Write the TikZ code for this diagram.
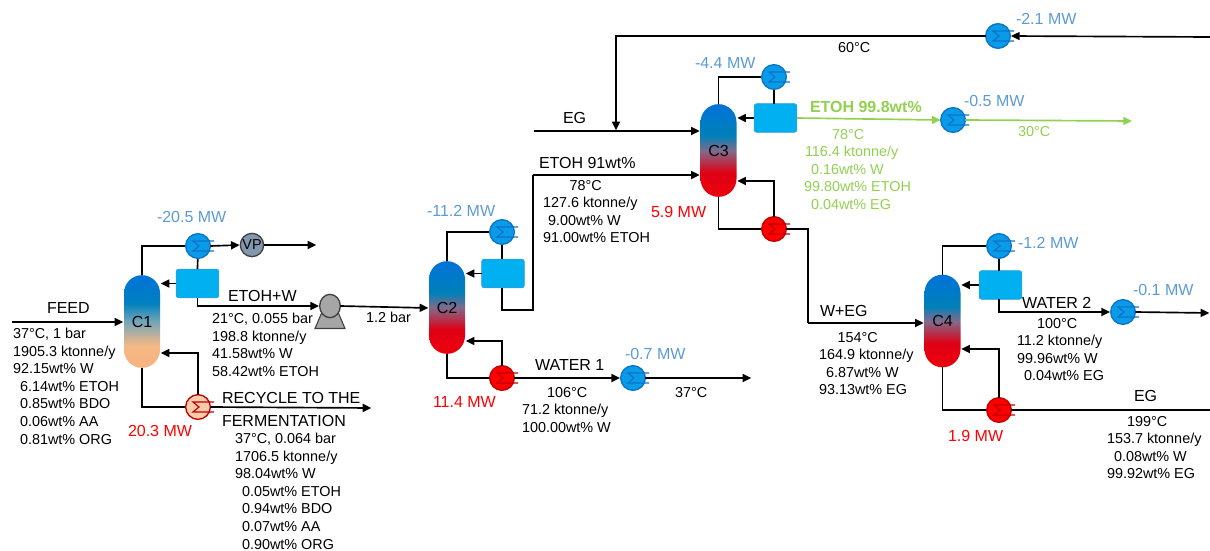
\documentclass[tikz,border=0pt]{standalone}
\usepackage{fontspec}
\setmainfont{Liberation Sans}
\usetikzlibrary{arrows.meta,calc,shapes.geometric}
\definecolor{lblue}{HTML}{5B9BD5}
\definecolor{lgreen}{HTML}{92D050}
\definecolor{cfill}{HTML}{0A9BE8}
\definecolor{cline}{HTML}{0B74C8}
\definecolor{rfill}{HTML}{00B0F0}
\definecolor{rline}{HTML}{2E9FDF}
\definecolor{hline}{HTML}{C00000}
\definecolor{pale}{HTML}{F8CBAD}
\definecolor{vpfill}{HTML}{8497B0}
\definecolor{stA}{HTML}{F5B380}
\definecolor{stB}{HTML}{F5B885}
\definecolor{stC}{HTML}{73A6B8}
\definecolor{stD}{HTML}{0080BF}
\definecolor{stE}{HTML}{0073D9}
\definecolor{stF}{HTML}{EB000D}
\definecolor{stG}{HTML}{E00014}
\definecolor{stH}{HTML}{806B8C}
\definecolor{stI}{HTML}{0080B8}
\pgfdeclareverticalshading{colpeach}{100bp}{
 color(0bp)=(stA);
 color(25bp)=(stA);
 color(37bp)=(stB);
 color(50bp)=(stC);
 color(60bp)=(stD);
 color(75bp)=(stE);
 color(100bp)=(stE)}
\pgfdeclareverticalshading{colred}{100bp}{
 color(0bp)=(stF);
 color(25bp)=(stF);
 color(38bp)=(stG);
 color(50bp)=(stH);
 color(58bp)=(stI);
 color(75bp)=(stE);
 color(100bp)=(stE)}
\tikzset{
 x=0.75pt,y=-0.75pt,
 pipe/.style={draw=black,line width=1.25pt,line join=miter},
 flow/.style={pipe,-{Triangle[length=6.5pt,width=6pt]},shorten >=0.5pt},
 gpipe/.style={draw=lgreen,line width=1.25pt},
 gflow/.style={gpipe,-{Triangle[length=6.5pt,width=6pt]}},
 column/.style={rounded corners=13.5pt,minimum width=27pt,minimum height=69.5pt,inner sep=0pt,outer sep=0pt,font=\fontsize{12}{14}\selectfont},
 recv/.style={draw=rline,fill=rfill,rounded corners=2pt,line width=.6pt,minimum width=32pt,minimum height=21.5pt,inner sep=0pt,outer sep=0pt},
 hxnode/.style={circle,line width=1pt,minimum size=18.5pt,inner sep=0pt,outer sep=0pt},
 cooler/.style={hxnode,draw=cline,fill=cfill},
 heater/.style={hxnode,draw=hline,fill=red},
 paleheater/.style={hxnode,draw=hline,fill=pale},
 sym/.style={line width=.9pt,line join=miter},
 ctxt/.style={inner sep=0pt,outer sep=0pt,anchor=north west,align=left,font=\fontsize{10.8}{13.2}\selectfont},
 ttl/.style={inner sep=0pt,outer sep=0pt,anchor=west,font=\fontsize{12}{14.2}\selectfont},
 bluetxt/.style={ttl,text=lblue},
 redtxt/.style={ttl,text=red},
}
\newcommand{\hxsym}[3]{%
 \draw[sym,draw=#3] ($(#1,#2)+(16,-5)$) -- ($(#1,#2)+(-5,-5)$) -- ($(#1,#2)+(1,0)$) -- ($(#1,#2)+(-5,5)$) -- ($(#1,#2)+(16,5)$);}
\newcommand{\ind}{\hspace*{5.25pt}}
\newcommand{\pad}[1]{\hspace*{#1pt}}
\begin{document}
\begin{tikzpicture}
\useasboundingbox (0,0) rectangle (1210,550);
% columns
\node[column,shading=colpeach] (c1) at (142,321.5) {C1};
\node[column,shading=colred] (c2) at (447,307.5) {C2};
\node[column,shading=colred] (c3) at (718.5,150.5) {C3};
\node[column,shading=colred] (c4) at (942.5,321) {C4};
% receivers
\node[recv] (r1) at (197.5,283.5) {};
\node[recv] (r2) at (503,273.5) {};
\node[recv] (r3) at (775.5,118) {};
\node[recv] (r4) at (1000.5,285) {};
% coordinates
\coordinate (feedin) at (12,322);
\coordinate (vpout) at (317,245);
\coordinate (rec1out) at (372,408);
\coordinate (c2bend) at (533,310);
\coordinate (c3feedA) at (533,175);
\coordinate (egin) at (534,131);
\coordinate (topin) at (1210,37);
\coordinate (topbend) at (616,36);
\coordinate (egjoin) at (616,131);
\coordinate (w1out) at (752,378);
\coordinate (gout) at (1132,121);
\coordinate (c3bend) at (808,229);
\coordinate (c4feed) at (808,323);
\coordinate (w2out) at (1210,313);
\coordinate (egout) at (1210,410);
% connectors under exchangers
\draw[pipe] (c1.north) |- (198,246);
\draw[pipe] (c2.north) |- (502,232);
\draw[pipe] (c3.north) |- (774,77);
\draw[pipe] (c4.north) |- (999,246);
\draw[pipe] (c1.south) |- (198,407);
\draw[pipe] (c2.south) |- (502,378);
\draw[pipe] (c3.south) |- (774,229);
\draw[pipe] (c4.south) |- (999,410);
\draw[pipe] (198,246) -- (r1.north);
\draw[pipe] (502,232) -- (502,259);
\draw[pipe] (774,77) -- (774,104);
\draw[pipe] (999,246) -- (999,271);
% exchangers
\node[cooler] (e1) at (198,246) {}; \hxsym{198}{246}{cline}
\node[paleheater] (h1) at (198,407) {}; \hxsym{198}{407}{hline}
\node[cooler] (e2) at (502,232) {}; \hxsym{502}{232}{cline}
\node[heater] (h2) at (502,378) {}; \hxsym{502}{378}{hline}
\node[cooler] (k2) at (633,378) {}; \hxsym{633}{378}{cline}
\node[cooler] (e3) at (774,77) {}; \hxsym{774}{77}{cline}
\node[heater] (h3) at (774,229) {}; \hxsym{774}{229}{hline}
\node[cooler] (k3) at (953,120) {}; \hxsym{953}{120}{cline}
\node[cooler] (k0) at (998,36) {}; \hxsym{998}{36}{cline}
\node[cooler] (e4) at (999,246) {}; \hxsym{999}{246}{cline}
\node[heater] (h4) at (999,410) {}; \hxsym{999}{410}{hline}
\node[cooler] (k4) at (1123,312) {}; \hxsym{1123}{312}{cline}
% VP and pump
\node[circle,draw=black!75,fill=vpfill,line width=1pt,minimum size=17.5pt,inner sep=0pt,outer sep=0pt,font=\fontsize{10.8}{12}\selectfont] (vp) at (252,245) {VP};
\draw[draw=black!75,fill=black!35,line width=.8pt] (322,312) -- (315,328.5) -- (345,328.5) -- (338,312) -- cycle;
\node[ellipse,draw=black!75,fill=black!35,line width=1pt,minimum width=15.5pt,minimum height=17.5pt,inner sep=0pt,outer sep=0pt] (pump) at (330,306) {};
% connectors
\draw[flow] (feedin) -- (feedin -| c1.west);
\draw[flow] (e1.east) -- (vp.west);
\draw[flow] (vp.east) -- (vpout);
\draw[flow] (r1.west) -- (r1.west -| c1.east);
\draw[flow] (r1.south) |- (pump.west);
\draw[flow] (h1.north) |- (c1.east |- 0,353);
\draw[flow] (h1.east) -- (rec1out);
\draw[flow] (pump.east) -- (c2.west |- 0,308);
\draw[flow] (r2.west) -- (r2.west -| c2.east);
\draw[flow] (h2.north) |- (c2.east |- 0,341);
\draw[pipe] (502,288) |- (c2bend) -- (c3feedA);
\draw[flow] (c3feedA) -- (c3.west |- c3feedA);
\draw[flow] (h2.east) -- (k2.west);
\draw[flow] (k2.east) -- (w1out);
\draw[flow] (egin) -- (c3.west |- egin);
\draw[flow] (topin) -- (k0.east);
\draw[flow] (k0.west) -- (topbend) -- (egjoin);
\draw[flow] (r3.west) -- (r3.west -| c3.east);
\draw[flow] (h3.north) |- (c3.east |- 0,181);
\draw[pipe] (h3.east) -- (c3bend) -- (c4feed);
\draw[flow] (c4feed) -- (c4.west |- c4feed);
\draw[gflow] (r3.east) -- (k3.west);
\draw[gflow] (k3.east) -- (gout);
\draw[flow] (r4.west) -- (r4.west -| c4.east);
\draw[flow] (999,299) |- (k4.west);
\draw[flow] (k4.east) -- (w2out);
\draw[flow] (h4.north) |- (c4.east |- 0,349);
\draw[pipe] (h4.east) -- (egout);
% labels
\node[ttl] (lfeed) at (47,308) {FEED};
\node[ctxt] (bfeed) at (13,328) {37°C, 1 bar\\1905.3 ktonne/y\\92.15wt\% W\\\ind 6.14wt\% ETOH\\\ind 0.85wt\% BDO\\\ind 0.06wt\% AA\\\ind 0.81wt\% ORG};
\node[bluetxt] (q1) at (157,217) {-20.5 MW};
\node[ttl] (l1) at (228,296) {ETOH+W};
\node[ctxt] (b1) at (212,313) {21°C, 0.055 bar\\198.8 ktonne/y\\41.58wt\% W\\58.42wt\% ETOH};
\node[ctxt,anchor=west] (p1) at (366,317) {1.2 bar};
\node[ttl,align=left,anchor=north west] (l2) at (222,392) {RECYCLE TO THE\\[3.4pt]FERMENTATION};
\node[ctxt] (b2) at (235,433) {37°C, 0.064 bar\\1706.5 ktonne/y\\98.04wt\% W\\\ind 0.05wt\% ETOH\\\ind 0.94wt\% BDO\\\ind 0.07wt\% AA\\\ind 0.90wt\% ORG};
\node[redtxt] (q2) at (128,431) {20.3 MW};
\node[bluetxt] (q3) at (427,211) {-11.2 MW};
\node[redtxt] (q4) at (433,402) {11.4 MW};
\node[ttl] (l3) at (535,365) {WATER 1};
\node[ctxt] (b3) at (522,387) {\pad{18.75}106°C\\71.2 ktonne/y\\100.00wt\% W};
\node[bluetxt] (q5) at (625,354) {-0.7 MW};
\node[ctxt,anchor=west] (t5) at (675,393) {37°C};
\node[ttl] (l4) at (539,163) {ETOH 91wt\%};
\node[ctxt] (b4) at (543,180) {\pad{20}78°C\\127.6 ktonne/y\\\pad{3.75}9.00wt\% W\\91.00wt\% ETOH};
\node[ttl] (l5) at (563,118) {EG};
\node[redtxt] (q6) at (651,212) {5.9 MW};
\node[bluetxt] (q7) at (695,63) {-4.4 MW};
\node[ctxt,anchor=west] (t7) at (838,48) {60°C};
\node[bluetxt] (q8) at (1016,19) {-2.1 MW};
\node[ttl,text=lgreen,font=\fontsize{12}{14.2}\bfseries\selectfont] (l6) at (810,107) {ETOH 99.8wt\%};
\node[bluetxt] (q9) at (964,101) {-0.5 MW};
\node[ctxt,anchor=west,text=lgreen] (t9) at (1018,132) {30°C};
\node[ctxt,text=lgreen] (b6) at (804,129) {\pad{21}78°C\\\pad{0.75}116.4 ktonne/y\\\ind 0.16wt\% W\\99.80wt\% ETOH\\\ind 0.04wt\% EG};
\node[bluetxt] (q10) at (1018,243) {-1.2 MW};
\node[ttl] (l7) at (1022,303) {WATER 2};
\node[bluetxt] (q11) at (1133,290) {-0.1 MW};
\node[ctxt] (b7) at (1017,318) {\pad{15}100°C\\11.2 ktonne/y\\99.96wt\% W\\\ind 0.04wt\% EG};
\node[ttl] (l8) at (820,311) {W+EG};
\node[ctxt] (b8) at (819,332) {\pad{14}154°C\\164.9 ktonne/y\\\ind 6.87wt\% W\\93.13wt\% EG};
\node[ttl] (l9) at (1134,396) {EG};
\node[ctxt] (b9) at (1107,416) {\pad{15}199°C\\153.7 ktonne/y\\\ind 0.08wt\% W\\99.92wt\% EG};
\node[redtxt] (q12) at (948,436) {1.9 MW};
\end{tikzpicture}
\end{document}
